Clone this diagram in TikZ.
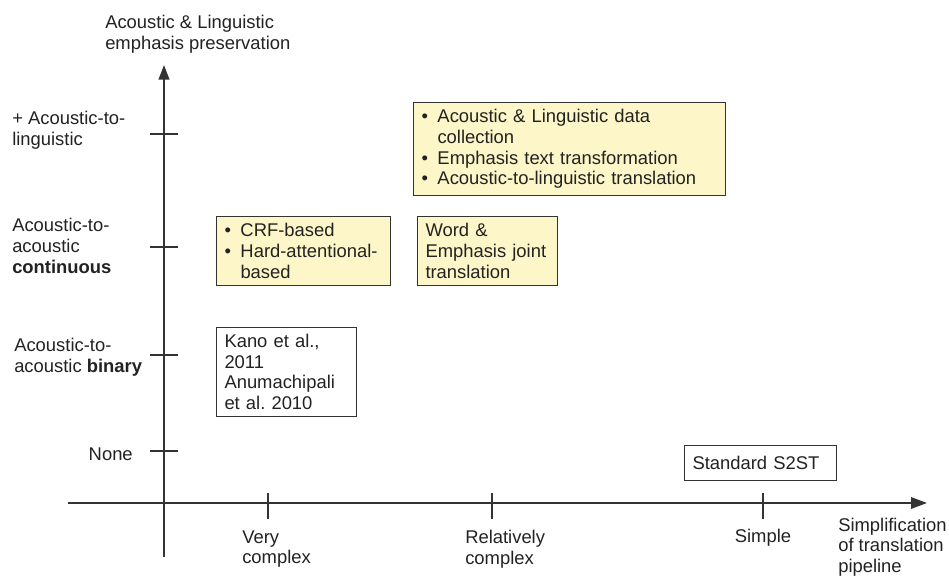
\documentclass[tikz,border=0pt]{standalone}
\usepackage{fontspec}
\setmainfont{Liberation Sans}
\usetikzlibrary{arrows.meta}

\definecolor{ink}{HTML}{222222}
\definecolor{axisgray}{HTML}{333333}
\definecolor{notefill}{HTML}{FCF6C8}

% bullet with a fixed hanging width, and the matching indent for wrapped lines
\newcommand\bul{\makebox[12pt][l]{\textbullet}}
\newcommand\cont{\hspace*{12pt}}

\tikzset{
  txt/.style={font=\fontsize{13.8}{15.5}\selectfont\frenchspacing, text=ink},
  lbl/.style={txt, inner sep=0pt, align=left},
  axisline/.style={draw=axisgray, line width=1.5pt},
  ticmark/.style={draw=axisgray, line width=1.5pt},
  notebox/.style={txt, draw=axisgray, line width=0.75pt, fill=notefill,
                  inner xsep=6pt, inner ysep=0pt, align=left, anchor=north west},
  refbox/.style={notebox, fill=white},
}

\begin{document}
\begin{tikzpicture}[x=0.75pt, y=-0.75pt]
\useasboundingbox[fill=white] (0,0) rectangle (949,579);

% axes
\coordinate (ybot) at (164,557);
\coordinate (ytop) at (164,65);
\coordinate (xleft) at (68,503);
\coordinate (xright) at (927,503);
\draw[axisline, -{Triangle[length=11pt,width=8pt]}] (ybot) -- (ytop);
\draw[axisline, -{Triangle[length=12pt,width=8.5pt]}] (xleft) -- (xright);

% ticks on the vertical axis
\foreach \yy/\nm in {134/ya, 247/yb, 355/yc, 451/yd} {
  \coordinate (\nm) at (164,\yy);
  \draw[ticmark] ([xshift=-10.5pt]\nm) -- ([xshift=10.5pt]\nm);
}
% ticks on the horizontal axis
\foreach \xx/\nm in {268/xa, 492/xb, 763/xc} {
  \coordinate (\nm) at (\xx,506);
  \draw[ticmark] ([yshift=10pt]\nm) -- ([yshift=-9.5pt]\nm);
}

% axis titles
\node[lbl, anchor=west] (ytitle) at (105,34) {Acoustic \& Linguistic\\emphasis preservation};
\node[lbl, anchor=west] (xtitle) at (838,547) {Simplification\\of translation\\pipeline};

% levels of emphasis preservation
\node[lbl, anchor=west] (lvla) at (12,130) {+ Acoustic-to-\\linguistic};
\node[lbl, anchor=west] (lvlb) at (12,246) {Acoustic-to-\\acoustic\\\textbf{continuous}};
\node[lbl, anchor=west] (lvlc) at (14,357) {Acoustic-to-\\acoustic \textbf{binary}};
\node[lbl, anchor=east] (lvld) at (133,454) {None};

% pipeline complexity
\node[lbl, anchor=west] (cxa) at (242,549) {Very\\complex};
\node[lbl, anchor=west] (cxb) at (465,549) {Relatively\\complex};
\node[lbl] (cxc) at (763,538) {Simple};

% approaches
\node[notebox, text width=118.5pt, minimum height=51.75pt] (crf) at (216,216)
  {\bul CRF-based\\\bul Hard-attentional-\\\cont based};
\node[refbox, text width=93pt, minimum height=66.75pt] (kano) at (216,327)
  {Kano et al.,\\2011\\Anumachipali\\et al. 2010};
\node[notebox, text width=222pt, minimum height=69.75pt] (ours) at (413,102)
  {\bul Acoustic \& Linguistic data\\\cont collection\\\bul Emphasis text transformation\\\bul Acoustic-to-linguistic translation};
\node[notebox, text width=93pt, minimum height=51.75pt] (joint) at (417,216)
  {Word \&\\Emphasis joint\\translation};
\node[refbox, text width=102pt, minimum height=26.25pt] (std) at (684,445)
  {Standard S2ST};
\end{tikzpicture}
\end{document}
